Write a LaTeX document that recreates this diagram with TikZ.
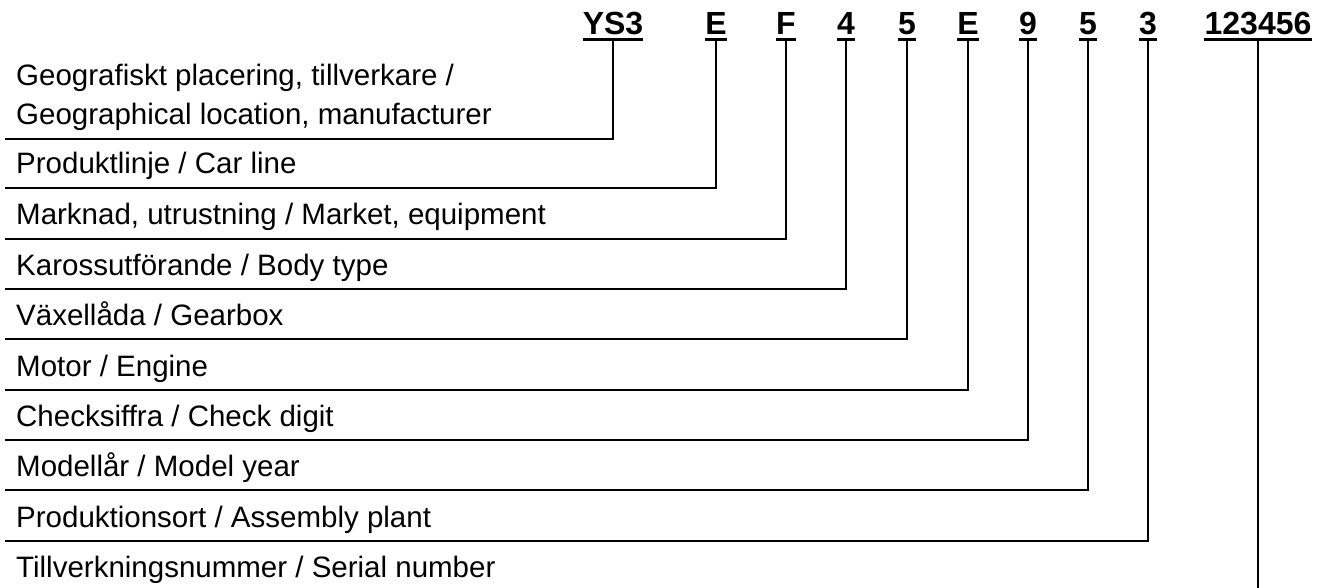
\documentclass[tikz,border=0pt]{standalone}
\usepackage{fontspec}
\setmainfont{Liberation Sans}
\begin{document}
\begin{tikzpicture}[x=1pt,y=-1pt,
  hdr/.style={font=\fontsize{32}{36}\selectfont\bfseries, inner sep=0pt, anchor=base},
  lbl/.style={font=\fontsize{29.5}{34}\selectfont, inner sep=0pt, anchor=base west},
  ul/.style={line width=3pt},
  conn/.style={line width=2.5pt}]
\useasboundingbox (0,0) rectangle (1325,588);
% headers
\node[hdr] (h1) at (613,35) {YS3};
\node[hdr] (h2) at (716,35) {E};
\node[hdr] (h3) at (786,35) {F};
\node[hdr] (h4) at (846,35) {4};
\node[hdr] (h5) at (907,35) {5};
\node[hdr] (h6) at (968,35) {E};
\node[hdr] (h7) at (1028,35) {9};
\node[hdr] (h8) at (1088,35) {5};
\node[hdr] (h9) at (1148,35) {3};
\node[hdr] (h10) at (1258,35) {123456};
\foreach \i in {1,...,10}{
  \draw[ul] ([yshift=-4.5pt]h\i.base west) -- ([yshift=-4.5pt]h\i.base east);
}
% labels
\node[lbl] (l1a) at (16,86) {Geografiskt placering, tillverkare /};
\node[lbl] (l1) at (16,125) {Geographical location, manufacturer};
\node[lbl] (l2) at (16,174) {Produktlinje / Car line};
\node[lbl] (l3) at (16,225) {Marknad, utrustning / Market, equipment};
\node[lbl] (l4) at (16,275) {Karossutförande / Body type};
\node[lbl] (l5) at (16,325) {Växellåda / Gearbox};
\node[lbl] (l6) at (16,376) {Motor / Engine};
\node[lbl] (l7) at (16,426) {Checksiffra / Check digit};
\node[lbl] (l8) at (16,476) {Modellår / Model year};
\node[lbl] (l9) at (16,527) {Produktionsort / Assembly plant};
\node[lbl] (l10) at (16,577) {Tillverkningsnummer / Serial number};
% left ends of the lines
\coordinate (s1) at (5,139);
\coordinate (s2) at (5,188);
\coordinate (s3) at (5,239);
\coordinate (s4) at (5,289);
\coordinate (s5) at (5,339);
\coordinate (s6) at (5,390);
\coordinate (s7) at (5,440);
\coordinate (s8) at (5,490);
\coordinate (s9) at (5,541);
\coordinate (e10) at (1258,588);
\foreach \i in {1,...,9}{
  \draw[conn] ([yshift=-4.5pt]h\i.base) |- (s\i);
}
\draw[conn] ([yshift=-4.5pt]h10.base) -- (e10);
\end{tikzpicture}
\end{document}
